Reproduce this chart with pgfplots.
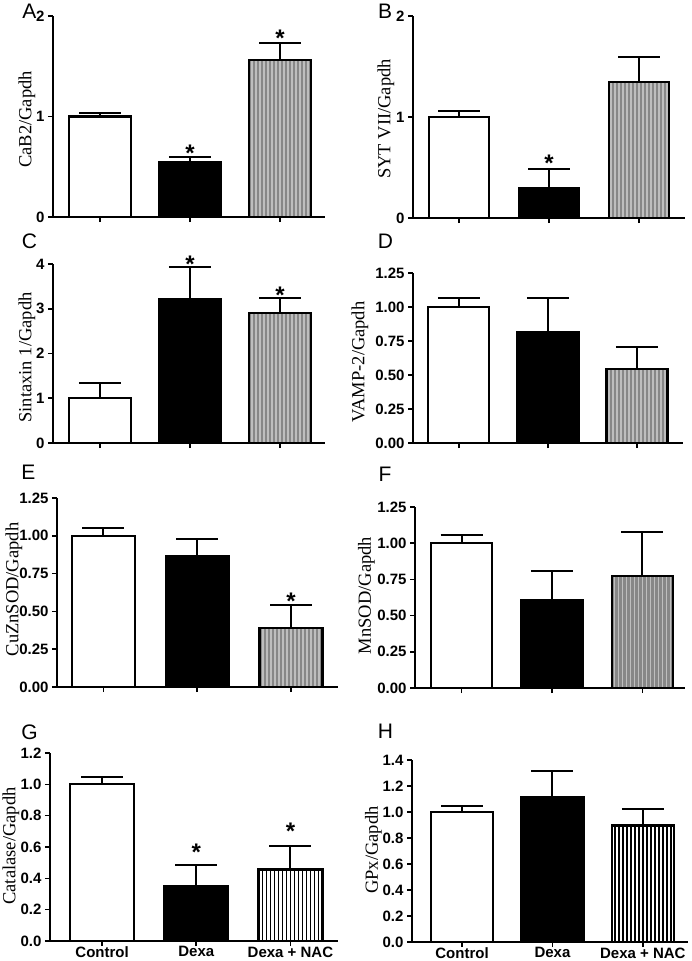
\documentclass[border=0pt]{standalone}
\usepackage{fontspec}
\setmainfont{Liberation Serif}
\setsansfont{Liberation Sans}
\usepackage{pgfplots}
\pgfplotsset{compat=1.18}

\definecolor{stripebase}{HTML}{878787}
\definecolor{stripelight}{HTML}{BEBEBE}

\pgfplotsset{
  panel/.style={
    scale only axis, anchor=origin, clip=false,
    axis x line*=bottom, axis y line*=left,
    axis line style={line width=1.8pt},
    tick align=outside, major tick length=5pt,
    tick style={line width=1.6pt, black},
    xtick={1,2,3}, xticklabels={},
    ymin=0,
    tick label style={font=\sffamily\bfseries\fontsize{15}{15}\selectfont},
    xticklabel style={yshift=3pt},
    /pgf/number format/assume math mode=true,
    ylabel style={font=\fontsize{18.5}{20}\selectfont,
      at={(axis description cs:0,0.5)}, anchor=center},
    error bars/y dir=plus, error bars/y explicit,
    error bars/error bar style={line width=2pt, black},
    error bars/error mark options={rotate=90, line width=2pt, mark size=21pt, black},
  },
  % #1 horizontal shift, #2 vertical shift (label is rotated)
  ylab/.style 2 args={ylabel style={yshift=-#1pt, xshift=#2pt}},
  bars/.style={ybar, bar shift=0pt, draw=black, line width=2.2pt},
  ctrl/.style={bars, fill=white},
  dexa/.style={bars, fill=black},
  star/.style={draw=none, mark=none, nodes near coords={*},
    every node near coord/.style={anchor=center, yshift=-5pt, inner sep=0pt,
      font=\sffamily\bfseries\fontsize{24}{24}\selectfont}},
  dec2/.style={yticklabel style={/pgf/number format/.cd, fixed, fixed zerofill, precision=2}},
  dec1/.style={yticklabel style={/pgf/number format/.cd, fixed, fixed zerofill, precision=1}},
}

% striped bar: x, value, error, base colour, stripe colour, stripe width
\newcommand{\nacbar}[6]{%
  \addplot[bars, fill=#4, draw=none, error bars/y dir=none, forget plot] coordinates {(#1,#2)};
  \pgfplotsinvokeforeach{-28,-24,...,28}{%
    \addplot[ybar, bar shift=##1pt, bar width=#6pt, fill=#5, draw=none,
      error bars/y dir=none, forget plot] coordinates {(#1,#2)};}
  \addplot[bars, fill=none] coordinates {(#1,#2) +- (0,#3)};
}

\begin{document}
\begin{tikzpicture}
\useasboundingbox (0pt,0pt) rectangle (691pt,-961pt);

% A
\begin{axis}[panel, at={(53pt,-217pt)}, width=272pt, height=201pt,
  xmin=0.478, xmax=3.5, ymax=2, ytick={0,1,2}, bar width=62pt,
  ylabel={CaB2/Gapdh}, ylab={-26}{-3}]
\addplot[ctrl] coordinates {(1,1.00) +- (0,0.03)};
\addplot[dexa] coordinates {(2,0.545) +- (0,0.05)};
\nacbar{3}{1.565}{0.17}{stripebase}{stripelight}{1.8}
\addplot[star] coordinates {(2,0.687) (3,1.83)};
\end{axis}

% B
\begin{axis}[panel, at={(413pt,-218pt)}, width=272pt, height=202pt,
  xmin=0.489, xmax=3.51, ymax=2, ytick={0,1,2}, bar width=60pt,
  ylabel={SYT VII/Gapdh}, ylab={-27}{-2}]
\addplot[ctrl] coordinates {(1,1.00) +- (0,0.063)};
\addplot[dexa] coordinates {(2,0.30) +- (0,0.19)};
\nacbar{3}{1.35}{0.24}{stripebase}{stripelight}{1.8}
\addplot[star] coordinates {(2,0.594)};
\end{axis}

% C
\begin{axis}[panel, at={(53pt,-443pt)}, width=272pt, height=179pt,
  xmin=0.478, xmax=3.5, ymax=4, ytick={0,1,2,3,4}, bar width=62pt,
  ylabel={Sintaxin 1/Gapdh}, ylab={-26}{-4}]
\addplot[ctrl] coordinates {(1,1.00) +- (0,0.34)};
\addplot[dexa] coordinates {(2,3.21) +- (0,0.72)};
\nacbar{3}{2.90}{0.33}{stripebase}{stripelight}{1.8}
\addplot[star] coordinates {(2,4.11) (3,3.42)};
\end{axis}

% D
\begin{axis}[panel, dec2, at={(413pt,-443pt)}, width=270pt, height=170pt,
  xmin=0.485, xmax=3.517, ymax=1.25, ytick={0,0.25,0.5,0.75,1,1.25}, bar width=61pt,
  ylabel={VAMP-2/Gapdh}, ylab={-53}{-4}]
\addplot[ctrl] coordinates {(1,1.00) +- (0,0.069)};
\addplot[dexa] coordinates {(2,0.818) +- (0,0.249)};
\nacbar{3}{0.544}{0.159}{stripebase}{stripelight}{1.8}
\end{axis}

% E
\begin{axis}[panel, dec2, at={(57pt,-687pt)}, width=281pt, height=189pt,
  xmin=0.505, xmax=3.5, ymax=1.25, ytick={0,0.25,0.5,0.75,1,1.25}, bar width=63pt,
  ylabel={CuZnSOD/Gapdh}, ylab={-43}{3}]
\addplot[ctrl] coordinates {(1,1.00) +- (0,0.053)};
\addplot[dexa] coordinates {(2,0.867) +- (0,0.115)};
\nacbar{3}{0.39}{0.155}{stripebase}{stripelight}{1.8}
\addplot[star] coordinates {(3,0.60)};
\end{axis}

% F
\begin{axis}[panel, dec2, at={(415pt,-688pt)}, width=270pt, height=181pt,
  xmin=0.486, xmax=3.47, ymax=1.25, ytick={0,0.25,0.5,0.75,1,1.25}, bar width=61pt,
  ylabel={MnSOD/Gapdh}, ylab={-48.5}{2}]
\addplot[ctrl] coordinates {(1,1.00) +- (0,0.055)};
\addplot[dexa] coordinates {(2,0.61) +- (0,0.20)};
\nacbar{3}{0.776}{0.30}{stripebase}{stripelight}{1.8}
\end{axis}

% G
\begin{axis}[panel, dec1, at={(50pt,-941pt)}, width=288pt, height=188pt,
  xmin=0.447, xmax=3.505, ymax=1.2, ytick={0,0.2,...,1.2}, bar width=64pt,
  xticklabels={Control,Dexa,Dexa + NAC},
  ylabel={Catalase/Gapdh}, ylab={-39}{1}]
\addplot[ctrl] coordinates {(1,1.00) +- (0,0.05)};
\addplot[dexa] coordinates {(2,0.353) +- (0,0.134)};
\nacbar{3}{0.457}{0.152}{white}{black}{1.5}
\addplot[star] coordinates {(2,0.596) (3,0.73)};
\end{axis}

% H
\begin{axis}[panel, dec1, at={(412pt,-942pt)}, width=276pt, height=182pt,
  xmin=0.446, xmax=3.5, ymax=1.4, ytick={0,0.2,...,1.4}, bar width=62pt,
  xticklabels={Control,Dexa,Dexa + NAC},
  ylabel={GPx/Gapdh}, ylab={-38.5}{1}]
\addplot[ctrl] coordinates {(1,1.00) +- (0,0.049)};
\addplot[dexa] coordinates {(2,1.113) +- (0,0.20)};
\nacbar{3}{0.897}{0.123}{white}{black}{1.5}
\end{axis}

\begin{scope}[every node/.style={font=\sffamily\fontsize{21}{21}\selectfont, anchor=center, inner sep=0pt}]
\node at (29.5pt,-11pt) {A};
\node at (385pt,-11pt) {B};
\node at (29.5pt,-241pt) {C};
\node at (385.5pt,-241.5pt) {D};
\node at (28.5pt,-472.5pt) {E};
\node at (385pt,-474.5pt) {F};
\node at (29.5pt,-732.5pt) {G};
\node at (385.5pt,-731.5pt) {H};
\end{scope}
\end{tikzpicture}
\end{document}
